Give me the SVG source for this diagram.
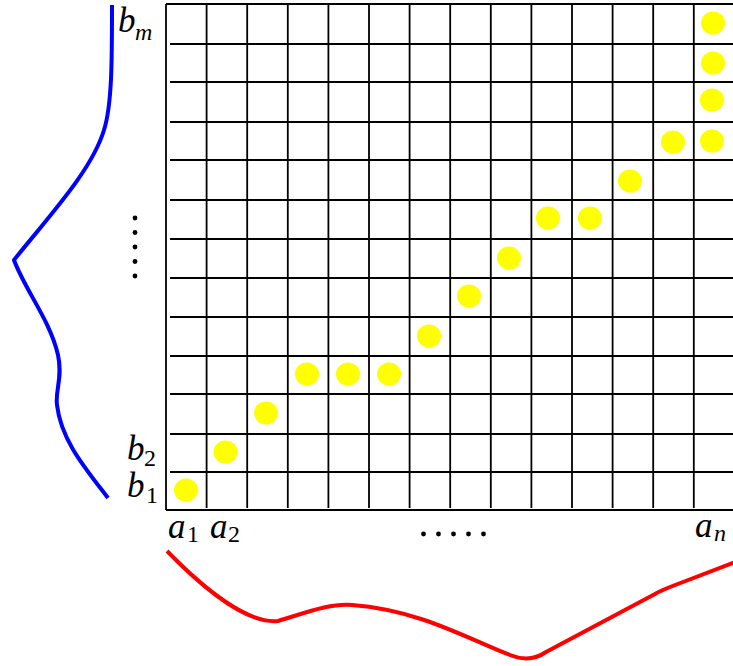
<svg xmlns="http://www.w3.org/2000/svg" width="733" height="666" viewBox="0 0 733 666">
<style>
.g{stroke:#000;stroke-width:1.8;fill:none}
.d{fill:#ffff00}
.t{font-family:"Liberation Serif","DejaVu Serif",serif;font-style:italic;font-size:35px;fill:#000}
.s{font-size:24px}
.u{font-style:normal}
.k{fill:#000}
</style>
<rect width="733" height="666" fill="#fff"/>
<g id="grid">
<path class="g" d="M166,4V510M206.6,4V508M247.2,4V508M287.8,4V508M328.4,4V508M369,4V508M409.6,4V508M450.2,4V508M490.8,4V508M531.4,4V508M572,4V508M612.6,4V508M653.2,4V508M693.8,4V508"/>
<path class="g" d="M166,4H733M166,510H733M170,44H733M170,82H733M170,122H733M170,160H733M170,200H733M170,239H733M170,278H733M170,317H733M170,356H733M170,394H733M170,434H733M170,472H733"/>
</g>
<g id="dots">
<ellipse class="d" cx="186" cy="490" rx="12" ry="11.5"/>
<ellipse class="d" cx="225.5" cy="452" rx="12" ry="11.5"/>
<ellipse class="d" cx="266" cy="413" rx="12" ry="11.5"/>
<ellipse class="d" cx="307" cy="374" rx="12" ry="11.5"/>
<ellipse class="d" cx="348" cy="374" rx="12" ry="11.5"/>
<ellipse class="d" cx="389" cy="374" rx="12" ry="11.5"/>
<ellipse class="d" cx="429" cy="336" rx="12" ry="11.5"/>
<ellipse class="d" cx="469" cy="296" rx="12" ry="11.5"/>
<ellipse class="d" cx="509" cy="258" rx="12" ry="11.5"/>
<ellipse class="d" cx="548" cy="218" rx="12" ry="11.5"/>
<ellipse class="d" cx="590" cy="218" rx="12" ry="11.5"/>
<ellipse class="d" cx="630" cy="181" rx="12" ry="11.5"/>
<ellipse class="d" cx="673" cy="142" rx="12" ry="11.5"/>
<ellipse class="d" cx="712" cy="141" rx="12" ry="11.5"/>
<ellipse class="d" cx="712" cy="100" rx="12" ry="11.5"/>
<ellipse class="d" cx="713" cy="63" rx="12" ry="11.5"/>
<ellipse class="d" cx="713" cy="23" rx="12" ry="11.5"/>
</g>
<g id="ellipsis-v">
<circle class="k" cx="135" cy="218" r="2.4"/>
<circle class="k" cx="135" cy="232.5" r="2.4"/>
<circle class="k" cx="135" cy="247" r="2.4"/>
<circle class="k" cx="135" cy="261.5" r="2.4"/>
<circle class="k" cx="135" cy="276" r="2.4"/>
</g>
<g id="ellipsis-h">
<circle class="k" cx="423.5" cy="534" r="2.4"/>
<circle class="k" cx="438.5" cy="534" r="2.4"/>
<circle class="k" cx="453.5" cy="534" r="2.4"/>
<circle class="k" cx="468.5" cy="534" r="2.4"/>
<circle class="k" cx="483.5" cy="534" r="2.4"/>
</g>
<g id="labels">
<text class="t" x="118" y="32">b<tspan class="s" x="135" y="40">m</tspan></text>
<text class="t" x="127" y="460">b<tspan class="s u" x="144" y="466">2</tspan></text>
<text class="t" x="127" y="497">b<tspan class="s u" x="146" y="503">1</tspan></text>
<text class="t" x="168" y="538">a<tspan class="s u" x="187" y="542">1</tspan></text>
<text class="t" x="210" y="538">a<tspan class="s u" x="228" y="542">2</tspan></text>
<text class="t" x="695" y="537">a<tspan class="s" x="714" y="541">n</tspan></text>
</g>
<g id="curves" fill="none" stroke-width="4" stroke-linejoin="round">
<path stroke="#0000ff" d="M112,5 C112,60 112,105 104,130 C92,170 50,215 14,260 C25,290 50,320 58,355 C63,378 55,390 57,405 C61,440 85,468 108,498"/>
<path stroke="#ff0000" d="M167,551 C205,590 248,624 278,621 C305,613 330,603 352,605 C420,610 470,640 510,655 C525,661 536,659 546,652 L655,594 C660,591 665,589 670,587 L735,562"/>
</g>
</svg>
